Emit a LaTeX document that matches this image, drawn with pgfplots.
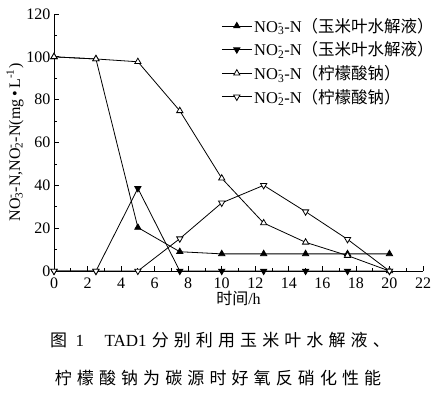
\documentclass[border=0pt]{standalone}
\usepackage{pgfplots}
\pgfplotsset{compat=1.18}
\usepackage{fontspec}
\setmainfont{Liberation Serif}
\newfontfamily\cjk{Noto Sans CJK SC}
\newfontfamily\cjkcap[LetterSpace=30]{Noto Sans CJK SC}
\newcommand{\nox}[1]{NO\makebox[0pt][l]{\textsuperscript{-}}\textsubscript{#1}}
\begin{document}
\begin{tikzpicture}
\useasboundingbox (-54pt,-125pt) rectangle (384pt,271pt);
\begin{axis}[
  at={(0,0)}, anchor=origin,
  scale only axis, width=369pt, height=257pt,
  xmin=0, xmax=22, ymin=0, ymax=120,
  axis x line*=bottom, axis y line*=left,
  tick align=inside,
  xtick={0,2,...,22}, ytick={0,20,...,120},
  minor x tick num=1, minor y tick num=1,
  major tick length=5pt, minor tick length=3pt,
  axis line style={line width=0.8pt}, tick style={line width=0.8pt, black},
  /pgf/number format/assume math mode=true,
  ticklabel style={font=\fontsize{16}{19}\selectfont},
  xticklabel style={yshift=-3pt},
  label style={font=\fontsize{16}{19}\selectfont},
  xlabel={{\cjk 时间}/h},
  xlabel style={yshift=4pt},
  ylabel={\nox{3}-N,\nox{2}-N(mg\,•\,L\textsuperscript{-1})},
  ylabel style={yshift=-4pt},
  clip=false,
  legend cell align=left,
  legend style={at={(0.445,1.0)}, anchor=north west, draw=none, fill=none,
    font=\fontsize{16.5}{19}\selectfont, row sep=4pt,
    legend image code/.code={\draw[mark repeat=2,mark phase=2,#1] plot coordinates {(0pt,0pt) (15pt,0pt) (30pt,0pt)};}},
  every axis plot/.append style={black, line width=0.8pt, mark size=3.6pt},
]
\addplot[mark=triangle*, mark options={fill=black}] coordinates {(0,100) (2.5,99) (5,20.3) (7.5,9) (10,8) (12.5,8) (15,8) (17.5,8) (20,8)};
\addlegendentry{\nox{3}-N{\cjk（玉米叶水解液）}}
\addplot[mark=triangle*, mark options={fill=black, rotate=180}] coordinates {(0,0) (2.5,0) (5,38.6) (7.5,0) (10,0) (12.5,0) (15,0) (17.5,0) (20,0)};
\addlegendentry{\nox{2}-N{\cjk（玉米叶水解液）}}
\addplot[mark=triangle*, mark options={fill=white}] coordinates {(0,100) (2.5,99) (5,97.7) (7.5,74.8) (10,43.3) (12.5,22.4) (15,13.4) (17.5,7.2) (20,0)};
\addlegendentry{\nox{3}-N{\cjk（柠檬酸钠）}}
\addplot[mark=triangle*, mark options={fill=white, rotate=180}] coordinates {(0,0) (2.5,0) (5,0) (7.5,15.1) (10,31.8) (12.5,40) (15,27.7) (17.5,14.8) (20,0)};
\addlegendentry{\nox{2}-N{\cjk（柠檬酸钠）}}
\end{axis}
\node[font=\fontsize{17}{20}\selectfont] at (166pt,-69pt) {{\cjkcap 图}\hspace{0.5em}1\hspace{1.2em}TAD1\hspace{0.3em}{\cjkcap 分别利用玉米叶水解液、}};
\node[font=\fontsize{17}{20}\selectfont] at (164pt,-107pt) {{\cjkcap 柠檬酸钠为碳源时好氧反硝化性能}};
\end{tikzpicture}
\end{document}
